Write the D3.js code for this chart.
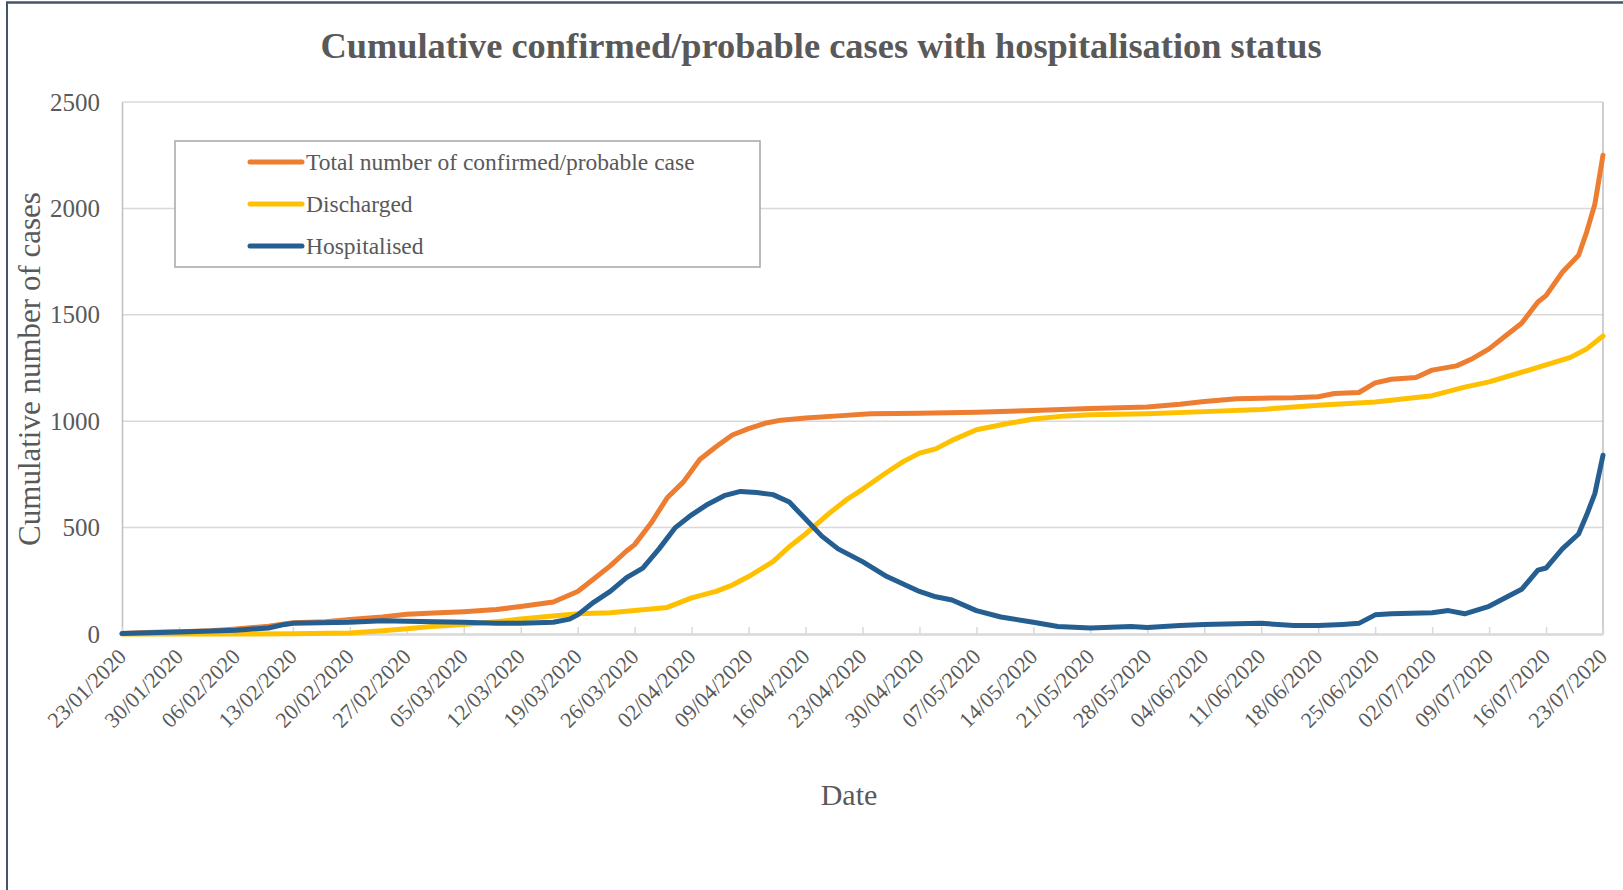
<!DOCTYPE html>
<html>
<head>
<meta charset="utf-8">
<script src="https://cdn.jsdelivr.net/npm/d3@7"></script>
<style>
  body { margin: 0; background: #fff; }
  svg { display: block; font-family: "Liberation Serif", "Times New Roman", serif; }
  .tick text { fill: #595959; }
</style>
</head>
<body>
<script>
// values (cumulative counts), [date, value]
var totalCases = [
  ["2020-01-23", 2], ["2020-01-27", 8], ["2020-01-30", 10], ["2020-02-03", 15],
  ["2020-02-06", 24], ["2020-02-10", 36], ["2020-02-13", 53], ["2020-02-17", 58],
  ["2020-02-20", 68], ["2020-02-24", 80], ["2020-02-27", 93], ["2020-03-02", 100],
  ["2020-03-05", 105], ["2020-03-09", 115], ["2020-03-12", 129], ["2020-03-16", 150],
  ["2020-03-19", 200], ["2020-03-21", 260], ["2020-03-23", 320], ["2020-03-25", 390],
  ["2020-03-26", 420], ["2020-03-28", 520], ["2020-03-30", 640], ["2020-04-01", 715],
  ["2020-04-03", 820], ["2020-04-05", 880], ["2020-04-07", 935], ["2020-04-09", 965],
  ["2020-04-11", 990], ["2020-04-13", 1005], ["2020-04-16", 1015], ["2020-04-20", 1025],
  ["2020-04-24", 1035], ["2020-04-30", 1037], ["2020-05-07", 1042], ["2020-05-14", 1050],
  ["2020-05-21", 1060], ["2020-05-28", 1067], ["2020-06-01", 1080], ["2020-06-04", 1093],
  ["2020-06-08", 1105], ["2020-06-11", 1108], ["2020-06-15", 1110], ["2020-06-18", 1115],
  ["2020-06-20", 1130], ["2020-06-23", 1135], ["2020-06-25", 1180], ["2020-06-27", 1197],
  ["2020-06-30", 1205], ["2020-07-02", 1240], ["2020-07-05", 1260], ["2020-07-07", 1295],
  ["2020-07-09", 1340], ["2020-07-11", 1400], ["2020-07-13", 1460], ["2020-07-15", 1560],
  ["2020-07-16", 1590], ["2020-07-18", 1700], ["2020-07-20", 1780], ["2020-07-21", 1890],
  ["2020-07-22", 2020], ["2020-07-23", 2250]
];

var discharged = [
  ["2020-01-23", 0], ["2020-02-06", 0], ["2020-02-13", 1], ["2020-02-20", 5],
  ["2020-02-24", 15], ["2020-02-27", 25], ["2020-03-01", 35], ["2020-03-05", 45],
  ["2020-03-09", 58], ["2020-03-12", 70], ["2020-03-16", 85], ["2020-03-19", 95],
  ["2020-03-23", 100], ["2020-03-26", 110], ["2020-03-30", 125], ["2020-04-02", 170],
  ["2020-04-05", 200], ["2020-04-07", 230], ["2020-04-09", 270], ["2020-04-12", 340],
  ["2020-04-14", 410], ["2020-04-16", 470], ["2020-04-19", 570], ["2020-04-21", 630],
  ["2020-04-23", 680], ["2020-04-26", 760], ["2020-04-28", 810], ["2020-04-30", 850],
  ["2020-05-02", 870], ["2020-05-04", 910], ["2020-05-07", 960], ["2020-05-11", 990],
  ["2020-05-14", 1010], ["2020-05-18", 1025], ["2020-05-21", 1030], ["2020-05-28", 1035],
  ["2020-06-04", 1045], ["2020-06-11", 1055], ["2020-06-18", 1075], ["2020-06-25", 1090],
  ["2020-07-02", 1120], ["2020-07-06", 1160], ["2020-07-09", 1185], ["2020-07-13", 1230],
  ["2020-07-16", 1265], ["2020-07-19", 1300], ["2020-07-21", 1340], ["2020-07-23", 1400]
];

var hospitalised = [
  ["2020-01-23", 2], ["2020-01-30", 9], ["2020-02-06", 18], ["2020-02-10", 28],
  ["2020-02-12", 45], ["2020-02-13", 50], ["2020-02-20", 55], ["2020-02-24", 62],
  ["2020-02-27", 60], ["2020-03-05", 55], ["2020-03-09", 50], ["2020-03-12", 50],
  ["2020-03-16", 55], ["2020-03-18", 70], ["2020-03-19", 90], ["2020-03-21", 150],
  ["2020-03-23", 200], ["2020-03-25", 265], ["2020-03-27", 310], ["2020-03-29", 400],
  ["2020-03-31", 500], ["2020-04-02", 560], ["2020-04-04", 610], ["2020-04-06", 650],
  ["2020-04-08", 670], ["2020-04-10", 665], ["2020-04-12", 655], ["2020-04-14", 620],
  ["2020-04-16", 540], ["2020-04-18", 460], ["2020-04-20", 400], ["2020-04-23", 340],
  ["2020-04-26", 270], ["2020-04-30", 200], ["2020-05-02", 175], ["2020-05-04", 160],
  ["2020-05-07", 110], ["2020-05-10", 80], ["2020-05-14", 55], ["2020-05-17", 35],
  ["2020-05-21", 28], ["2020-05-26", 35], ["2020-05-28", 30], ["2020-06-01", 40],
  ["2020-06-04", 45], ["2020-06-08", 48], ["2020-06-11", 50], ["2020-06-15", 40],
  ["2020-06-18", 40], ["2020-06-21", 45], ["2020-06-23", 50], ["2020-06-25", 90],
  ["2020-06-27", 95], ["2020-07-02", 100], ["2020-07-04", 110], ["2020-07-06", 95],
  ["2020-07-09", 130], ["2020-07-11", 170], ["2020-07-13", 210], ["2020-07-15", 300],
  ["2020-07-16", 310], ["2020-07-18", 400], ["2020-07-20", 470], ["2020-07-21", 560],
  ["2020-07-22", 660], ["2020-07-23", 840]
];

var seriesNames = ["Total number of confirmed/probable case", "Discharged", "Hospitalised"];
var seriesColors = ["#ed7d31", "#ffc000", "#255e91"];
var yTicks = [0, 500, 1000, 1500, 2000, 2500];
var firstDay = "2020-01-23", lastDay = "2020-07-23";

var width = 1623,
    height = 890,
    plotLeft = 122,
    plotRight = 1603,
    plotTop = 102,
    plotBottom = 634,
    textGrey = "#595959";

var parseDate = d3.timeParse("%Y-%m-%d");
var formDate = d3.timeFormat("%d/%m/%Y");

var rows = [totalCases, discharged, hospitalised].map(function(s) {
    return s.map(function(d) { return {date: parseDate(d[0]), value: d[1]}; });
});

var xScale = d3.scaleTime()
    .domain([parseDate(firstDay), parseDate(lastDay)])
    .range([plotLeft, plotRight]);

var yScale = d3.scaleLinear()
    .domain([0, 2500])
    .range([plotBottom, plotTop]);

var svg = d3.select("body").append("svg")
    .attr("width", width)
    .attr("height", height);

svg.append("rect")
    .attr("width", width).attr("height", height)
    .attr("fill", "#fff");

// page frame (top and left edges of the figure box)
svg.append("line")
    .attr("x1", 6).attr("x2", width).attr("y1", 2.5).attr("y2", 2.5)
    .attr("stroke", "#44546a").attr("stroke-width", 2.5);
svg.append("line")
    .attr("x1", 7).attr("x2", 7).attr("y1", 2).attr("y2", height)
    .attr("stroke", "#44546a").attr("stroke-width", 2);

// gridlines
svg.append("g")
    .selectAll("line")
    .data(yTicks.slice(1))
    .enter()
    .append("line")
    .attr("x1", plotLeft).attr("x2", plotRight)
    .attr("y1", function(d) { return yScale(d); })
    .attr("y2", function(d) { return yScale(d); })
    .attr("stroke", "#d9d9d9")
    .attr("stroke-width", 1.5);

// plot border right side
svg.append("line")
    .attr("x1", plotRight).attr("x2", plotRight)
    .attr("y1", plotTop).attr("y2", plotBottom)
    .attr("stroke", "#bfbfbf").attr("stroke-width", 1.5);

// y axis
var yAxis = svg.append("g")
    .attr("transform", "translate(" + plotLeft + ",0)")
    .call(d3.axisLeft(yScale).tickValues(yTicks).tickFormat(d3.format("d")).tickSize(0).tickPadding(22));
yAxis.select(".domain").attr("stroke", "#bfbfbf").attr("stroke-width", 1.5);
yAxis.selectAll("text")
    .style("font-family", "Liberation Serif")
    .style("font-size", "25px");

// x axis, weekly ticks
var xTicks = d3.timeDay.range(parseDate(firstDay), d3.timeDay.offset(parseDate(lastDay), 1), 7);
var xAxis = svg.append("g")
    .attr("transform", "translate(0," + plotBottom + ")")
    .call(d3.axisBottom(xScale).tickValues(xTicks).tickFormat(formDate).tickSize(-7).tickSizeOuter(0));
xAxis.select(".domain").attr("stroke", "#d9d9d9").attr("stroke-width", 2.5);
xAxis.selectAll(".tick line").attr("stroke", "#d9d9d9").attr("stroke-width", 1.5);
xAxis.selectAll("text")
    .style("font-family", "Liberation Serif")
    .style("font-size", "22px")
    .style("text-anchor", "end")
    .attr("x", 0).attr("y", 0).attr("dy", 0)
    .attr("transform", "translate(5,24) rotate(-45)");

// series lines
var line = d3.line()
    .x(function(d) { return xScale(d.date); })
    .y(function(d) { return yScale(d.value); });

rows.forEach(function(r, i) {
    svg.append("path")
        .datum(r)
        .attr("d", line)
        .attr("fill", "none")
        .attr("stroke", seriesColors[i])
        .attr("stroke-width", 5)
        .attr("stroke-linejoin", "round")
        .attr("stroke-linecap", "round");
});

// legend
var legend = svg.append("g");
legend.append("rect")
    .attr("x", 175).attr("y", 141)
    .attr("width", 585).attr("height", 126)
    .attr("fill", "#fff")
    .attr("stroke", "#a6a6a6").attr("stroke-width", 1.5);

seriesNames.forEach(function(name, i) {
    var ly = 162 + i * 42;
    legend.append("line")
        .attr("x1", 250).attr("x2", 302)
        .attr("y1", ly).attr("y2", ly)
        .attr("stroke", seriesColors[i])
        .attr("stroke-width", 5)
        .attr("stroke-linecap", "round");
    legend.append("text")
        .attr("x", 306).attr("y", ly)
        .attr("dy", "0.33em")
        .attr("fill", textGrey)
        .style("font-size", "23.5px")
        .text(name);
});

// titles
svg.append("text")
    .attr("x", 821).attr("y", 58)
    .attr("text-anchor", "middle")
    .attr("fill", textGrey)
    .style("font-size", "36.4px")
    .style("font-weight", "bold")
    .text("Cumulative confirmed/probable cases with hospitalisation status");

svg.append("text")
    .attr("transform", "translate(40,369) rotate(-90)")
    .attr("text-anchor", "middle")
    .attr("fill", textGrey)
    .style("font-size", "31px")
    .text("Cumulative number of cases");

svg.append("text")
    .attr("x", 849).attr("y", 805)
    .attr("text-anchor", "middle")
    .attr("fill", textGrey)
    .style("font-size", "30px")
    .text("Date");
</script>
</body>
</html>
